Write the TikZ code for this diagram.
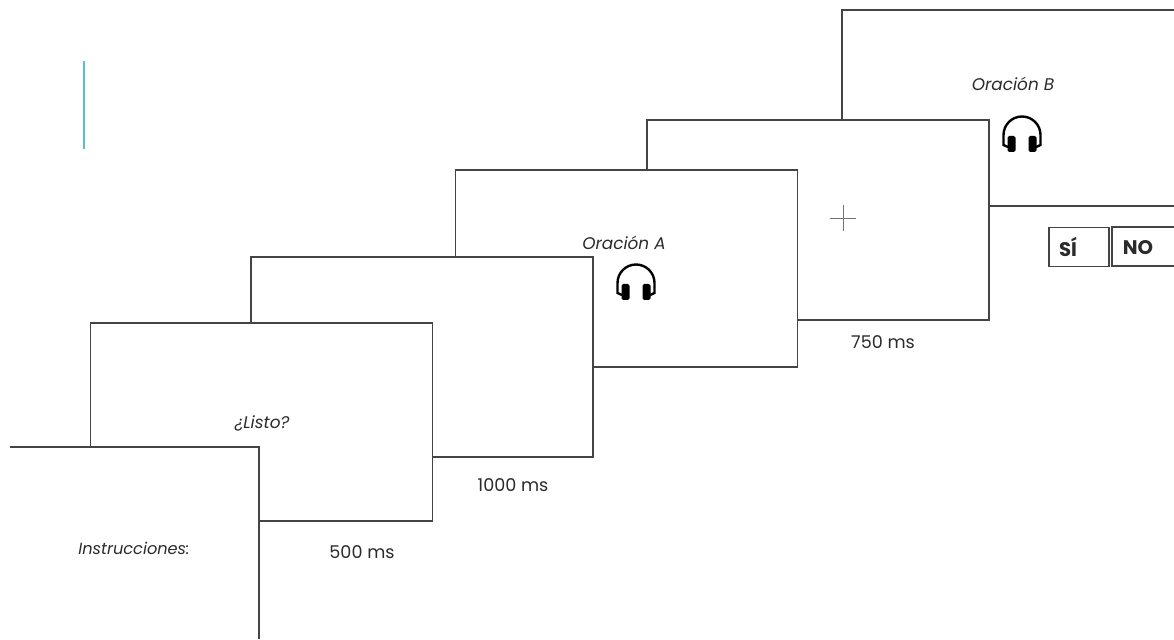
\documentclass[tikz,border=0pt]{standalone}
\usepackage{fontspec}
\setmainfont{Poppins}
\usepackage{xcolor}
\usetikzlibrary{positioning}
\definecolor{color1}{HTML}{58BFD0}
\definecolor{color2}{HTML}{444444}
\definecolor{color3}{HTML}{2B2B2B}

\begin{document}
\begin{tikzpicture}[
  x=0.025cm,
  y=0.025cm,
  every node/.style={font=\small, text=color3},
  screen/.style={rectangle, draw=color2, fill=white, line width=0.9pt, minimum width=8.55cm, minimum height=5cm, inner sep=0pt},
  edge/.style={draw=color2, line width=0.9pt},
  stim/.style={font=\fontsize{12}{14}\selectfont\itshape},
  dur/.style={font=\fontsize{12.5}{15}\selectfont},
  answer/.style={font=\fontsize{14}{16}\selectfont\bfseries, inner sep=0pt},
  headset/.pic={
    \draw[line width=1.7pt, color=black] (-14,-12) -- (-18.5,-10) -- (-18.5,0) arc (180:0:18.5) -- (18.5,-10) -- (14,-12);
    \fill[black, rounded corners=1.2pt] (-14.5,-17) rectangle (-6.5,-1);
    \fill[black, rounded corners=1.2pt] (6.5,-17) rectangle (14.5,-1);
  }
]
\useasboundingbox (0,0) rectangle (1174,639);
\fill[white] (0,0) rectangle (1174,639);

% accent bar
\coordinate (bar0) at (84,578);
\coordinate (bar1) at (84,490);
\draw[color=color1, line width=1pt] (bar0) -- (bar1);

% last screen runs off the page
\coordinate (b0) at (842,519);
\coordinate (b1) at (842,629);
\coordinate (b2) at (1174,629);
\coordinate (b3) at (989,433);
\coordinate (b4) at (1174,433);
\draw[edge] (b0) -- (b1) -- (b2);
\draw[edge] (b3) -- (b4);
\node[stim] (orb) at (1013,555) {Oración B};
\pic at (1022,504) {headset};

\node[screen] (fix) at (818,419) {};
\coordinate (fixh0) at (830,421);
\coordinate (fixh1) at (856,421);
\coordinate (fixv0) at (843,408);
\coordinate (fixv1) at (843,434);
\draw[color=color2!75, line width=0.35pt] (fixh0) -- (fixh1);
\draw[color=color2!75, line width=0.35pt] (fixv0) -- (fixv1);

\node[screen, minimum height=4.93cm] (scrA) at (626.5,370.5) {};
\node[stim] (ora) at (624,396) {Oración A};
\pic at (636,356) {headset};

\node[screen] (blank) at (422,282) {};
\node[screen, minimum height=4.95cm] (listo) at (261.5,217) {};
\node[stim] (lis) at (262,216) {¿Listo?};

% first screen, no left edge
\fill[white] (10,0) rectangle (259,192);
\coordinate (i0) at (10,192);
\coordinate (i1) at (259,192);
\coordinate (i2) at (259,0);
\draw[edge] (i0) -- (i1) -- (i2);
\node[stim, font=\fontsize{11.5}{14}\selectfont\itshape] (ins) at (134,91) {Instrucciones:};

% durations
\node[dur] (d500) at (362,87) {500 ms};
\node[dur] (d1000) at (513,154) {1000 ms};
\node[dur] (d750) at (883,297) {750 ms};

% answer boxes
\node[screen, minimum width=1.5cm, minimum height=0.98cm] (si) at (1079,392) {};
\node[answer] at (1068,392) {SÍ};
\coordinate (n0) at (1174,412);
\coordinate (n1) at (1112,412);
\coordinate (n2) at (1112,373);
\coordinate (n3) at (1174,373);
\draw[edge] (n0) -- (n1) -- (n2) -- (n3);
\node[answer] (no) at (1138,391) {NO};
\end{tikzpicture}
\end{document}
